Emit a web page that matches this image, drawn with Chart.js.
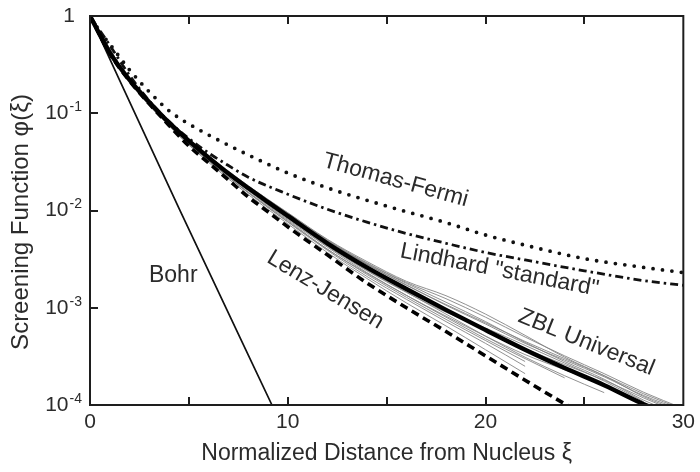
<!DOCTYPE html>
<html>
<head>
<meta charset="utf-8">
<script src="https://cdn.jsdelivr.net/npm/chart.js@4.4.1/dist/chart.umd.min.js"></script>
<style>
  html, body { margin: 0; padding: 0; background: #ffffff; }
  #wrap { width: 700px; height: 472px; }
</style>
</head>
<body>
<div id="wrap"><canvas id="c" width="700" height="472"></canvas></div>
<script>
// Screening functions phi(xi) versus reduced distance xi

const xiBohr = [0, 4.5, 9.2];
const phiBohr = [1, 0.0105, 0.0001];

const xiTF = [0, 0.5, 1, 2, 3, 4, 5, 6, 8, 10, 12, 15, 18, 20, 22, 25, 28, 30];
const phiTF = [1, 0.685, 0.515, 0.279, 0.166, 0.106, 0.0776, 0.0598, 0.0373, 0.0243, 0.0171, 0.0111, 0.0075, 0.0056, 0.0044, 0.0032, 0.0026, 0.0023];

const xiLindhard = [0, 1, 2, 3, 4, 5, 6, 7, 8, 10, 12, 14, 16, 18, 20, 22, 25, 28, 30];
const phiLindhard = [1, 0.5, 0.245, 0.134, 0.082, 0.055, 0.039, 0.029, 0.022, 0.0147, 0.0103, 0.0076, 0.0058, 0.0046, 0.0037, 0.0031, 0.0024, 0.0019, 0.0017];

const xiZBL = [0, 1, 2, 3, 4, 5, 6, 7, 8, 9, 10, 12, 14, 16, 18, 20, 22, 24, 26, 28, 30];
const phiZBL = [1, 0.42, 0.22, 0.13, 0.08, 0.052, 0.035, 0.024, 0.017, 0.0122, 0.0088, 0.0046, 0.0026, 0.00156, 0.00095, 0.00059, 0.00037, 0.00024, 0.00016, 0.000102, 0.00007];

const xiLJ = [0, 1, 2, 3, 4, 5, 6, 7, 8, 9, 10, 12, 14, 16, 18, 20, 22, 24, 25];
const phiLJ = [1, 0.41, 0.215, 0.125, 0.075, 0.046, 0.0308, 0.0206, 0.0138, 0.0097, 0.0068, 0.0035, 0.0018, 0.001, 0.00057, 0.00032, 0.00018, 0.000103, 0.00008];

// individual atom-pair screening functions scattered round the universal curve
const xiPairs = [0, 2, 4, 6, 8, 10, 12, 14, 16, 18, 20, 22, 24, 26, 28, 30];
const pairA = [1, 0.224, 0.0824, 0.0368, 0.018, 0.0095, 0.00506, 0.00299, 0.00187, 0.00133, 0.00086, 0.00052, 0.00031, 0.0002, 0.000122, 0.000084];
const pairB = [1, 0.22, 0.080, 0.0357, 0.0175, 0.0092, 0.0049, 0.00286, 0.00178, 0.00114, 0.00072, 0.00044, 0.00028, 0.000184, 0.000112, 0.000077];
const pairC = [1, 0.216, 0.0776, 0.0336, 0.0162, 0.0083, 0.0043, 0.0024, 0.00144, 0.0009, 0.00062, 0.00041, 0.00027, 0.000176, 0.000108];
const pairD = [1, 0.213, 0.075, 0.0322, 0.0153, 0.0077, 0.004, 0.0022, 0.00128, 0.00076, 0.00046, 0.00028];
const pairE = [1, 0.211, 0.0736, 0.0312, 0.0146, 0.0073, 0.0037, 0.002, 0.00112, 0.00065, 0.00037, 0.00021];
const pairF = [1, 0.213, 0.076, 0.0326, 0.0155, 0.0079, 0.004, 0.00226, 0.00134, 0.00082, 0.00051, 0.00033, 0.00023, 0.00016, 0.000102];
const pairG = [1, 0.222, 0.0816, 0.036, 0.0177, 0.0092, 0.0049, 0.0028, 0.00172, 0.00106, 0.00068, 0.00043, 0.00029, 0.000195, 0.000125, 0.0000875];
const pairH = [1, 0.218, 0.0784, 0.034, 0.0163, 0.0084, 0.0044, 0.00244, 0.00145, 0.00086, 0.00051, 0.00031, 0.0002, 0.000134];
const pairI = [1, 0.221, 0.081, 0.0355, 0.0172, 0.009, 0.0048, 0.0028, 0.0017, 0.00108, 0.0007, 0.00045, 0.0003, 0.0002, 0.00013, 0.00009];
const pairJ = [1, 0.217, 0.078, 0.0338, 0.016, 0.0081, 0.0042, 0.0023, 0.00134, 0.0008, 0.00048, 0.0003, 0.00019];
const pairK = [1, 0.219, 0.079, 0.0345, 0.0168, 0.0086, 0.0045, 0.0025, 0.0015, 0.00092, 0.00058, 0.00038, 0.00026, 0.00018, 0.000118, 0.00008];
const pairL = [1, 0.214, 0.0755, 0.0325, 0.0152, 0.0076, 0.0039, 0.0021, 0.00122, 0.00072, 0.00043, 0.00025];
const pairM = [1, 0.223, 0.0822, 0.0364, 0.0179, 0.0094, 0.005, 0.0029, 0.00182, 0.00124, 0.0008, 0.0005, 0.00032, 0.00021, 0.000135, 0.000092];

const xTickValues = [0, 10, 20, 30];
const xMarkValues = [5, 10, 15, 20, 25];
const yTickValues = [1e-4, 1e-3, 1e-2, 1e-1, 1];
const yTickBase = ['10', '10', '10', '10', '1'];
const yTickExp = ['-4', '-3', '-2', '-1', ''];

const xTitle = 'Normalized Distance from Nucleus ξ';
const yTitle = 'Screening Function φ(ξ)';
const curveNames = ['Thomas-Fermi', 'Lindhard "standard"', 'ZBL Universal', 'Lenz-Jensen', 'Bohr'];

const TEXT = '#2b2b2b';
const FONT = "'Liberation Sans', Arial, sans-serif";

function pts(xs, ys) { return ys.map((v, i) => ({ x: xs[i], y: v })); }

const pairSets = [pairA, pairB, pairC, pairD, pairE, pairF, pairG, pairH, pairI, pairJ, pairK, pairL, pairM].map(p => ({
  data: pts(xiPairs, p),
  borderColor: '#858585',
  borderWidth: 0.9,
  order: 10
}));

// curve captions, anchored in data space
const captions = [
  { text: curveNames[0], xi: 15.45, phi: 0.0204, angle: 15.5 },
  { text: curveNames[1], xi: 20.7, phi: 0.00243, angle: 11 },
  { text: curveNames[2], xi: 25.1, phi: 0.00044, angle: 22 },
  { text: curveNames[3], xi: 11.9, phi: 0.00152, angle: 31 },
  { text: curveNames[4], xi: 4.21, phi: 0.00213, angle: 0 }
];

const frameAndText = {
  id: 'frameAndText',
  afterDraw(chart) {
    const { ctx, chartArea: a, scales: { x, y } } = chart;
    ctx.save();
    ctx.strokeStyle = '#1e1e1e';
    ctx.lineWidth = 2;
    ctx.strokeRect(a.left, a.top, a.right - a.left, a.bottom - a.top);
    ctx.beginPath();
    xMarkValues.forEach(v => {
      const px = Math.round(x.getPixelForValue(v));
      ctx.moveTo(px, a.bottom); ctx.lineTo(px, a.bottom - 8);
      ctx.moveTo(px, a.top); ctx.lineTo(px, a.top + 8);
    });
    yTickValues.forEach(v => {
      const py = Math.round(y.getPixelForValue(v));
      ctx.moveTo(a.left, py); ctx.lineTo(a.left + 8, py);
    });
    ctx.stroke();

    // decade labels with raised exponents
    ctx.fillStyle = TEXT;
    ctx.textBaseline = 'middle';
    yTickValues.forEach((v, i) => {
      const py = y.getPixelForValue(v);
      const right = a.left - 8;
      ctx.textAlign = 'right';
      if (yTickExp[i]) {
        ctx.font = '14px ' + FONT;
        ctx.fillText(yTickExp[i], right, py - 6);
        const ew = ctx.measureText(yTickExp[i]).width;
        ctx.font = '21px ' + FONT;
        ctx.fillText(yTickBase[i], right - ew - 1, py);
      } else {
        ctx.font = '21px ' + FONT;
        ctx.fillText(yTickBase[i], right - 7, py);
      }
    });

    // vertical axis title
    ctx.save();
    ctx.font = '24px ' + FONT;
    ctx.textAlign = 'center';
    ctx.translate(21, 222);
    ctx.rotate(-Math.PI / 2);
    ctx.fillText(yTitle, 0, 0);
    ctx.restore();

    ctx.font = '23px ' + FONT;
    ctx.textAlign = 'center';
    captions.forEach(c => {
      ctx.save();
      ctx.translate(x.getPixelForValue(c.xi), y.getPixelForValue(c.phi));
      ctx.rotate(c.angle * Math.PI / 180);
      ctx.fillText(c.text, 0, 0);
      ctx.restore();
    });
    ctx.restore();
  }
};

new Chart(document.getElementById('c'), {
  type: 'line',
  data: {
    datasets: [
      { data: pts(xiZBL, phiZBL), borderColor: '#000', borderWidth: 4.4, order: 1 },
      { data: pts(xiLJ, phiLJ), borderColor: '#000', borderWidth: 3.6, borderDash: [8, 5], order: 2 },
      { data: pts(xiTF, phiTF), borderColor: '#111', borderWidth: 3.8, borderDash: [0, 9.5], borderCapStyle: 'round', order: 3 },
      { data: pts(xiLindhard, phiLindhard), borderColor: '#111', borderWidth: 2.8, borderDash: [8, 4, 2.5, 4], order: 4 },
      { data: pts(xiBohr, phiBohr), borderColor: '#111', borderWidth: 1.7, tension: 0, order: 5 },
      ...pairSets
    ]
  },
  options: {
    responsive: false,
    animation: false,
    devicePixelRatio: 1,
    layout: { padding: { top: 16, right: 12, left: 0, bottom: 0 } },
    elements: {
      point: { radius: 0 },
      line: { cubicInterpolationMode: 'monotone', fill: false }
    },
    plugins: { legend: { display: false }, tooltip: { enabled: false } },
    scales: {
      x: {
        type: 'linear',
        min: 0, max: 30,
        afterBuildTicks: s => { s.ticks = xTickValues.map(v => ({ value: v })); },
        afterFit: s => { s.height = 67; },
        grid: { display: false, drawTicks: false },
        border: { display: false },
        ticks: { color: TEXT, font: { family: FONT, size: 21 }, padding: 5, maxRotation: 0 },
        title: {
          display: true,
          text: xTitle,
          color: TEXT,
          font: { family: FONT, size: 23 },
          padding: { top: 0, bottom: 5 }
        }
      },
      y: {
        type: 'logarithmic',
        min: 1e-4, max: 1,
        afterBuildTicks: s => { s.ticks = yTickValues.map(v => ({ value: v })); },
        afterFit: s => { s.width = 90; },
        grid: { display: false, drawTicks: false },
        border: { display: false },
        ticks: { display: false },
        title: { display: false }
      }
    }
  },
  plugins: [frameAndText]
});
</script>
</body>
</html>
